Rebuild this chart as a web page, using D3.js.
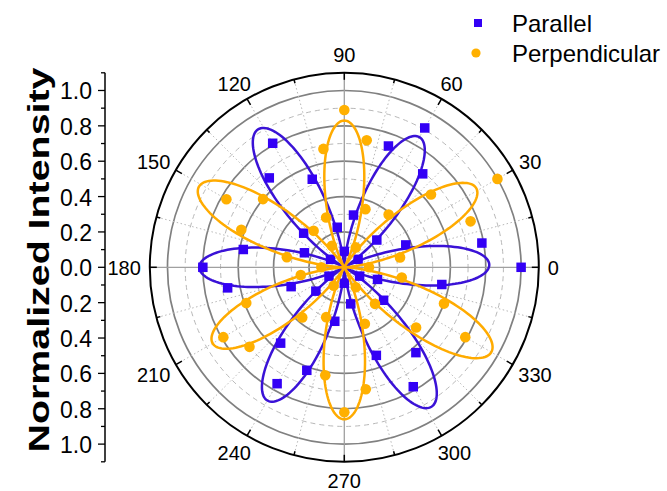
<!DOCTYPE html>
<html>
<head>
<meta charset="utf-8">
<script src="https://cdn.jsdelivr.net/npm/d3@7"></script>
<style>
  html, body { margin: 0; padding: 0; background: #fff; }
  svg { display: block; font-family: "Liberation Sans", Arial, sans-serif; }
</style>
</head>
<body>
<svg id="chart" width="667" height="491"></svg>
<script>
// ---- data ----
const angles = d3.range(0, 360, 10);
const parallel = [1.00, 0.79, 0.37, 0.09, 0.24, 0.69, 0.91, 0.73, 0.30, 0.09, 0.23, 0.53,
                  0.81, 0.66, 0.30, 0.09, 0.24, 0.58, 0.80, 0.67, 0.32, 0.10, 0.21, 0.56,
                  0.76, 0.62, 0.31, 0.09, 0.21, 0.53, 0.78, 0.63, 0.29, 0.10, 0.20, 0.56];
const perpendicular = [0.14, 0.32, 0.76, 1.00, 0.64, 0.39, 0.13, 0.35, 0.73, 0.89, 0.68, 0.30,
                       0.14, 0.27, 0.60, 0.77, 0.62, 0.33, 0.13, 0.25, 0.59, 0.79, 0.70, 0.37,
                       0.12, 0.30, 0.62, 0.82, 0.70, 0.34, 0.13, 0.27, 0.53, 0.79, 0.60, 0.33];
// fitted lobes (centre angle, amplitude)
const parallelLobeAngles = [1, 60, 122, 180, 240, 302];
const parallelLobeAmps   = [0.82, 0.85, 0.92, 0.82, 0.87, 0.93];
const perpLobeAngles = [31, 90, 151, 210, 270, 330];
const perpLobeAmps   = [0.87, 0.83, 0.94, 0.86, 0.86, 0.96];
const angleTicks = d3.range(0, 360, 30);
const radialTicks = [-1.0, -0.8, -0.6, -0.4, -0.2, 0.0, 0.2, 0.4, 0.6, 0.8, 1.0];
const seriesNames = ["Parallel", "Perpendicular"];

// ---- styles ----
const blue = "#3300f5", blueLine = "#3a12d6";
const orange = "#ffb000", orangeLine = "#ffab00";

const svg = d3.select("#chart");
const cx = 344.3, cy = 267.3;
const rMax = 1.1;
const r = d3.scaleLinear().domain([0, rMax]).range([0, 194.5]);
const rad = a => a * Math.PI / 180;
const px = (a, v) => cx + r(v) * Math.cos(rad(a));
const py = (a, v) => cy - r(v) * Math.sin(rad(a));

const g = svg.append("g");

// grid circles
const gridVals = d3.range(1, 11).map(i => i / 10);
g.selectAll("circle.grid").data(gridVals).enter().append("circle")
  .attr("cx", cx).attr("cy", cy).attr("r", d => r(d))
  .attr("fill", "none")
  .attr("stroke", (d, i) => i % 2 === 1 ? "#808080" : "#b8b8b8")
  .attr("stroke-width", (d, i) => i % 2 === 1 ? 1.7 : 1)
  .attr("stroke-dasharray", (d, i) => i % 2 === 1 ? null : "5,4");

// spokes
const spokeAngles = d3.range(0, 360, 15);
g.selectAll("line.spoke").data(spokeAngles).enter().append("line")
  .attr("x1", cx).attr("y1", cy)
  .attr("x2", d => px(d, rMax)).attr("y2", d => py(d, rMax))
  .attr("stroke", d => d % 90 === 0 ? "#a0a0a0" : "#b8b8b8")
  .attr("stroke-width", d => d % 90 === 0 ? 1.3 : 1)
  .attr("stroke-dasharray", d => d % 90 === 0 ? null : "1.5,2.5");

// outer circle
g.append("circle").attr("cx", cx).attr("cy", cy).attr("r", r(rMax))
  .attr("fill", "none").attr("stroke", "#000").attr("stroke-width", 2);

// angular ticks
g.selectAll("line.atick").data(spokeAngles).enter().append("line")
  .attr("x1", d => px(d, rMax)).attr("y1", d => py(d, rMax))
  .attr("x2", d => cx + (r(rMax) - (d % 30 === 0 ? 7 : 4)) * Math.cos(rad(d)))
  .attr("y2", d => cy - (r(rMax) - (d % 30 === 0 ? 7 : 4)) * Math.sin(rad(d)))
  .attr("stroke", "#000").attr("stroke-width", 1.5);

// angular labels
const fs = 20;
g.selectAll("text.alabel").data(angleTicks).enter().append("text")
  .attr("font-size", fs)
  .attr("text-anchor", "middle")
  .attr("dominant-baseline", "central")
  .text(d => d)
  .each(function(d) {
    const t = d3.select(this);
    const w = this.getComputedTextLength();
    const h = fs * 0.95;
    const R = r(rMax) + 9;
    const c = Math.cos(rad(d)), s = Math.sin(rad(d));
    t.attr("x", cx + R * c + c * w / 2)
     .attr("y", cy - R * s - s * h / 2 + 1);
  });

// fit curves
function lobeCurve(centers, amps) {
  const pts = [];
  for (let a = 0; a <= 360; a += 0.5) {
    let best = 0, bd = 1e9;
    centers.forEach((c, i) => {
      let dd = ((a - c) % 360 + 540) % 360 - 180;
      if (Math.abs(dd) < Math.abs(bd)) { bd = dd; best = i; }
    });
    const v = amps[best] * Math.pow(Math.cos(rad(3 * bd)), 2);
    pts.push([a, v]);
  }
  return pts;
}
const line = d3.line().x(d => px(d[0], d[1])).y(d => py(d[0], d[1])).curve(d3.curveLinear);

g.append("path").datum(lobeCurve(parallelLobeAngles, parallelLobeAmps))
  .attr("d", line).attr("fill", "none").attr("stroke", blueLine).attr("stroke-width", 2.5);
const ms = 9.5;
g.selectAll("rect.par").data(angles).enter().append("rect")
  .attr("x", (d, i) => px(d, parallel[i]) - ms / 2)
  .attr("y", (d, i) => py(d, parallel[i]) - ms / 2)
  .attr("width", ms).attr("height", ms).attr("fill", blue);

g.append("path").datum(lobeCurve(perpLobeAngles, perpLobeAmps))
  .attr("d", line).attr("fill", "none").attr("stroke", orangeLine).attr("stroke-width", 2.5);
g.selectAll("circle.perp").data(angles).enter().append("circle")
  .attr("cx", (d, i) => px(d, perpendicular[i]))
  .attr("cy", (d, i) => py(d, perpendicular[i]))
  .attr("r", 5.3).attr("fill", orange);

// left radial axis
const y = d3.scaleLinear().domain([-rMax, rMax]).range([cy + r(rMax), cy - r(rMax)]);
const ax = 105;
const axisG = svg.append("g");
axisG.append("line").attr("x1", ax).attr("x2", ax)
  .attr("y1", y(rMax)).attr("y2", y(-rMax)).attr("stroke", "#000").attr("stroke-width", 1.5);
const minorVals = d3.range(-11, 12).filter(i => i % 2 !== 0).map(i => i / 10);
axisG.selectAll("line.minor").data(minorVals).enter().append("line")
  .attr("x1", ax - 4).attr("x2", ax).attr("y1", d => y(d)).attr("y2", d => y(d))
  .attr("stroke", "#000").attr("stroke-width", 1.3);
axisG.selectAll("line.major").data(radialTicks).enter().append("line")
  .attr("x1", ax - 7).attr("x2", ax).attr("y1", d => y(d)).attr("y2", d => y(d))
  .attr("stroke", "#000").attr("stroke-width", 1.3);
axisG.selectAll("text.rl").data(radialTicks).enter().append("text")
  .attr("x", ax - 13).attr("y", d => y(d) + 1)
  .attr("text-anchor", "end").attr("dominant-baseline", "central")
  .attr("font-size", 23).text(d => Math.abs(d).toFixed(1));

svg.append("text")
  .attr("transform", `translate(39, 260) rotate(-90)`)
  .attr("text-anchor", "middle").attr("dominant-baseline", "central")
  .attr("font-size", 29).attr("font-weight", "bold")
  .attr("textLength", 385).attr("lengthAdjust", "spacingAndGlyphs")
  .text("Normalized Intensity");

// legend
const leg = svg.append("g");
leg.append("rect").attr("x", 478 - 4).attr("y", 23 - 4).attr("width", 8).attr("height", 8).attr("fill", blue);
leg.append("circle").attr("cx", 476).attr("cy", 53).attr("r", 4.6).attr("fill", orange);
leg.selectAll("text").data(seriesNames).enter().append("text")
  .attr("x", 512).attr("y", (d, i) => 23 + i * 30)
  .attr("dominant-baseline", "central").attr("font-size", 24).text(d => d);
</script>
</body>
</html>
